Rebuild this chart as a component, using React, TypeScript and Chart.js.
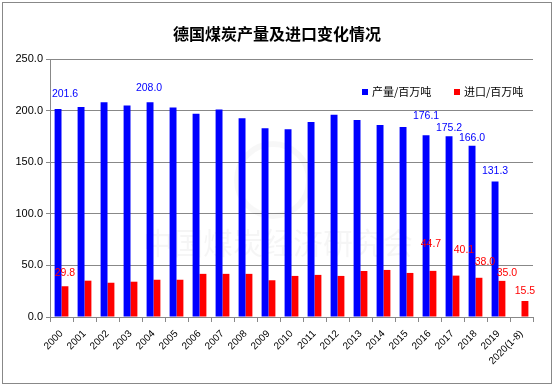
import React, { useEffect, useRef } from 'react';
import { Chart, registerables } from 'chart.js';

Chart.register(...registerables);

const title = '德国煤炭产量及进口变化情况';
const watermark = '中国煤炭经济研究会';
const categories = ['2000', '2001', '2002', '2003', '2004', '2005', '2006', '2007', '2008', '2009', '2010', '2011', '2012', '2013', '2014', '2015', '2016', '2017', '2018', '2019', '2020(1-8)'];
const productionName = '产量/百万吨';
const importName = '进口/百万吨';
const production: (number | null)[] = [201.6, 203.5, 208.0, 205.0, 208.0, 203.0, 197.0, 201.0, 192.5, 183.0, 182.0, 189.0, 196.0, 191.0, 186.0, 184.0, 176.1, 175.2, 166.0, 131.3, null];
const imports: number[] = [29.8, 35.2, 33.2, 34.2, 36.1, 36.1, 41.8, 41.8, 41.8, 35.6, 39.8, 40.8, 39.8, 44.6, 45.6, 42.7, 44.7, 40.1, 38.0, 35.0, 15.5];
const productionLabelIdx = [0, 4, 16, 17, 18, 19];
const importLabelIdx = [0, 16, 17, 18, 19, 20];
// label nudges (dx, dy above the bar top) as placed in the original
const productionLabelNudge = [[7, 15], [-1, 14], [0, 19], [0, 8], [0, 8], [0, 10]];
const importLabelNudge = [[0, 13], [-2, 27], [8, 26], [6, 16], [5, 8], [0, 10]];
const yTicks = [0, 50, 100, 150, 200, 250];

const BLUE = '#0000FF';
const RED = '#FF0000';
const GRAY = '#888888';
const NUM_FONT = '"Liberation Sans", Arial, sans-serif';
const CJK_FONT = '"Noto Sans CJK SC", sans-serif';

const decorPlugin = {
  id: 'decor',
  beforeDraw(chart: any) {
    const { ctx, width, height } = chart;
    ctx.save();
    ctx.fillStyle = '#ffffff';
    ctx.fillRect(0, 0, width, height);
    ctx.strokeStyle = GRAY;
    ctx.lineWidth = 1;
    ctx.strokeRect(2.5, 2.5, 549, 381);
    ctx.restore();
  },
  beforeDatasetsDraw(chart: any) {
    const { ctx } = chart;
    ctx.save();
    ctx.fillStyle = 'rgba(0,0,0,0.04)';
    ctx.font = `30px ${CJK_FONT}`;
    ctx.textAlign = 'left';
    ctx.textBaseline = 'middle';
    ctx.fillText(watermark, 143, 243);
    ctx.strokeStyle = 'rgba(0,0,0,0.03)';
    ctx.lineWidth = 6;
    ctx.beginPath();
    ctx.arc(273, 180, 36, 0, Math.PI * 2);
    ctx.stroke();
    ctx.restore();
  },
  afterDatasetsDraw(chart: any) {
    const { ctx } = chart;
    ctx.save();
    ctx.font = `10.5px ${NUM_FONT}`;
    ctx.textAlign = 'center';
    ctx.textBaseline = 'middle';
    const m0 = chart.getDatasetMeta(0);
    ctx.fillStyle = BLUE;
    productionLabelIdx.forEach((i, k) => {
      const el = m0.data[i];
      const v = production[i];
      if (!el || v == null) return;
      const [dx, dy] = productionLabelNudge[k];
      ctx.fillText(v.toFixed(1), el.x + dx, el.y - dy);
    });
    const m1 = chart.getDatasetMeta(1);
    ctx.fillStyle = RED;
    importLabelIdx.forEach((i, k) => {
      const el = m1.data[i];
      if (!el) return;
      const [dx, dy] = importLabelNudge[k];
      ctx.fillText(imports[i].toFixed(1), el.x + dx, el.y - dy);
    });
    ctx.restore();
  },
  afterDraw(chart: any) {
    const { ctx } = chart;
    ctx.save();
    ctx.fillStyle = '#000';
    ctx.font = `bold 16px ${CJK_FONT}`;
    ctx.textAlign = 'center';
    ctx.textBaseline = 'middle';
    ctx.fillText(title, 277, 34);
    ctx.font = `11px ${CJK_FONT}`;
    ctx.textAlign = 'left';
    const items = [
      { name: productionName, color: BLUE, x: 362 },
      { name: importName, color: RED, x: 454 },
    ];
    items.forEach((it) => {
      ctx.fillStyle = it.color;
      ctx.fillRect(it.x, 89, 6, 6);
      ctx.fillStyle = '#000';
      ctx.fillText(it.name, it.x + 10, 92);
    });
    ctx.restore();
  },
};

export default function App() {
  const ref = useRef<HTMLCanvasElement>(null);
  useEffect(() => {
    document.body.style.margin = '0';
    const canvas = ref.current!;
    const chart = new Chart(canvas, {
      type: 'bar',
      data: {
        labels: categories,
        datasets: [
          { label: productionName, data: production, backgroundColor: BLUE, categoryPercentage: 0.6, barPercentage: 1.0 },
          { label: importName, data: imports, backgroundColor: RED, categoryPercentage: 0.6, barPercentage: 1.0 },
        ],
      },
      options: {
        responsive: false,
        animation: false,
        devicePixelRatio: 1,
        layout: { padding: { left: 0, right: 22, top: 59, bottom: 0 } },
        plugins: {
          legend: { display: false },
          title: { display: false },
          tooltip: { enabled: false },
        },
        scales: {
          x: {
            offset: true,
            grid: { offset: true, drawOnChartArea: false, color: GRAY, tickLength: 5 },
            border: { color: GRAY },
            ticks: {
              minRotation: 45,
              maxRotation: 45,
              autoSkip: false,
              color: '#000',
              padding: 6,
              font: { family: NUM_FONT, size: 10 },
            },
            afterFit(scale: any) {
              scale.height = 75;
            },
          },
          y: {
            min: 0,
            max: 250,
            afterBuildTicks(scale: any) {
              scale.ticks = yTicks.map((v) => ({ value: v }));
            },
            grid: { color: GRAY, tickLength: 4 },
            border: { color: GRAY },
            ticks: {
              color: '#000',
              padding: 3,
              font: { family: NUM_FONT, size: 11 },
              callback: (v: any) => Number(v).toFixed(1),
            },
            afterFit(scale: any) {
              scale.width = 50;
            },
          },
        },
      },
      plugins: [decorPlugin],
    });
    return () => chart.destroy();
  }, []);
  return <canvas ref={ref} width={555} height={392} style={{ display: 'block' }} />;
}
